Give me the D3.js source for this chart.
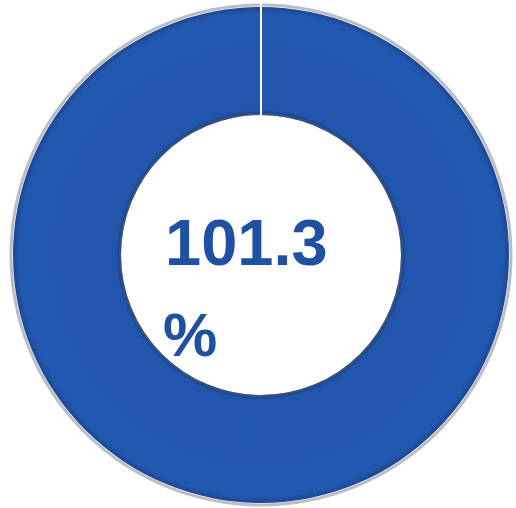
<!DOCTYPE html>
<html>
<head>
<meta charset="utf-8">
<script src="https://cdn.jsdelivr.net/npm/d3@7"></script>
<style>
  body { margin: 0; background: #fff; }
</style>
</head>
<body>
<div id="chart"></div>
<script>
// chart data
const labels = ["実績", "残り"];
const values = [101.3, 0];
const valueText = ["101.3", "%"];

const width = 516, height = 508;
const cx = 261, cy = 255;
const outerR = 248, innerR = 140;

const svg = d3.select("#chart")
  .append("svg")
    .attr("width", width)
    .attr("height", height);

const defs = svg.append("defs");

// bevel-ish shading on the ring (gradient in the group's own coordinates)
const grad = defs.append("radialGradient")
    .attr("id", "ringGrad")
    .attr("gradientUnits", "userSpaceOnUse")
    .attr("cx", 0).attr("cy", 0).attr("r", outerR);
[[innerR / outerR, "#173a78"],
 [(innerR + 5) / outerR, "#2256ad"],
 [0.975, "#2358b0"],
 [1, "#1c468f"]].forEach(s => {
  grad.append("stop").attr("offset", s[0]).attr("stop-color", s[1]);
});

const g = svg.append("g")
    .attr("transform", "translate(" + cx + "," + cy + ")");

// light grey rim outside
g.append("circle")
    .attr("r", outerR + 2)
    .attr("fill", "none")
    .attr("stroke", "#b9bec6")
    .attr("stroke-width", 3);

const pie = d3.pie()
    .sort(null)
    .value(d => d);

const arcs = pie(values.map((v, i) => i === 0 ? Math.min(v, 100) : Math.max(0, 100 - values[0])));

const arc = d3.arc()
    .innerRadius(innerR)
    .outerRadius(outerR);

g.selectAll("path.slice")
  .data(arcs)
  .join("path")
    .attr("class", "slice")
    .attr("d", arc)
    .attr("fill", "url(#ringGrad)");

// inner shadow edge
g.append("circle")
    .attr("r", innerR + 1)
    .attr("fill", "none")
    .attr("stroke", "#5a6678")
    .attr("stroke-opacity", 0.5)
    .attr("stroke-width", 2);

// white separator at slice start
const a0 = arcs[0].startAngle;
g.append("line")
    .attr("x1", innerR * Math.sin(a0))
    .attr("y1", -innerR * Math.cos(a0))
    .attr("x2", (outerR + 4) * Math.sin(a0))
    .attr("y2", -(outerR + 4) * Math.cos(a0))
    .attr("stroke", "#fff")
    .attr("stroke-width", 2);

// center label
svg.append("text")
    .attr("x", 165)
    .attr("y", 265)
    .attr("font-family", "Liberation Sans, Arial, sans-serif")
    .attr("font-weight", "bold")
    .attr("font-size", 65)
    .attr("fill", "#1f50a1")
    .text(valueText[0]);

svg.append("text")
    .attr("x", 163)
    .attr("y", 356)
    .attr("font-family", "Liberation Sans, Arial, sans-serif")
    .attr("font-weight", "bold")
    .attr("font-size", 61)
    .attr("fill", "#1f50a1")
    .text(valueText[1]);
</script>
</body>
</html>
